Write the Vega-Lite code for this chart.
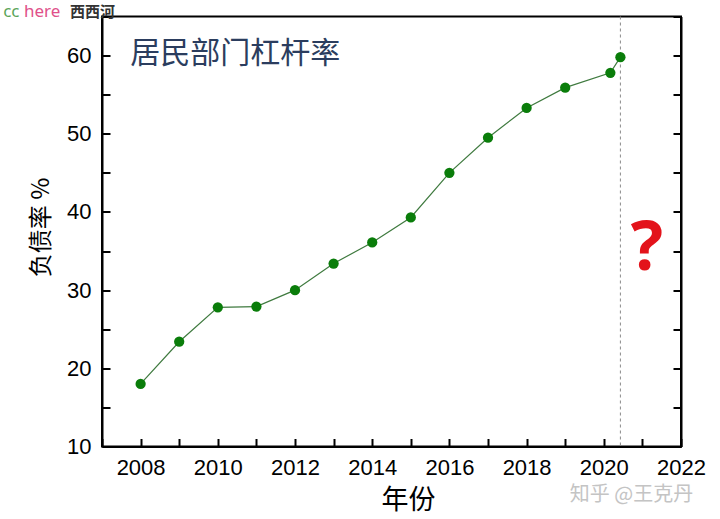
{
  "$schema": "https://vega.github.io/schema/vega-lite/v6.json",
  "width": 579,
  "height": 430,
  "autosize": {"type": "none"},
  "padding": {"left": 102, "top": 16.5, "right": 39, "bottom": 72.5},
  "background": "white",
  "config": {
    "view": {"stroke": "black", "strokeWidth": 2},
    "axis": {
      "grid": false,
      "domainColor": "black",
      "domainWidth": 2,
      "tickColor": "black",
      "tickWidth": 2,
      "tickSize": -8,
      "labelFont": "Liberation Sans",
      "labelFontSize": 22,
      "labelColor": "black",
      "labelPadding": 19,
      "labelFlush": false,
      "labelOverlap": false,
      "titleFont": "Noto Sans CJK SC",
      "titleFontWeight": "normal",
      "titleColor": "black"
    }
  },
  "datasets": {
    "series": [
      {"year": 2008, "value": 18.0},
      {"year": 2009, "value": 23.4},
      {"year": 2010, "value": 27.8},
      {"year": 2011, "value": 27.9},
      {"year": 2012, "value": 30.0},
      {"year": 2013, "value": 33.4},
      {"year": 2014, "value": 36.1},
      {"year": 2015, "value": 39.3},
      {"year": 2016, "value": 45.0},
      {"year": 2017, "value": 49.5},
      {"year": 2018, "value": 53.3},
      {"year": 2019, "value": 55.9},
      {"year": 2020.17, "value": 57.8},
      {"year": 2020.43, "value": 59.8}
    ],
    "marker": [{"year": 2020.43}],
    "heading": [{"year": 2007.73, "value": 60.2, "label": "居民部门杠杆率"}],
    "question": [{"year": 2021.12, "value": 35.1, "label": "?"}],
    "credit": [{"year": 2019.12, "value": 3.85, "label": "知乎 @王克丹"}],
    "stampcc": [{"year": 2004.44, "value": 65.55, "label": "cc"}],
    "stamphere": [{"year": 2004.98, "value": 65.55, "label": "here"}],
    "stampname": [{"year": 2006.17, "value": 65.55, "label": "西西河"}]
  },
  "encoding": {
    "x": {
      "field": "year",
      "type": "quantitative",
      "scale": {"domain": [2007, 2022], "nice": false, "zero": false},
      "axis": {
        "title": "年份",
        "titleFontSize": 27,
        "titleX": 306,
        "titleY": 53.5,
        "titleBaseline": "middle",
        "values": [2007, 2008, 2009, 2010, 2011, 2012, 2013, 2014, 2015, 2016, 2017, 2018, 2019, 2020, 2021, 2022],
        "labelExpr": "datum.value % 2 == 0 ? format(datum.value, 'd') : ''"
      }
    }
  },
  "layer": [
    {
      "data": {"name": "marker"},
      "mark": {"type": "rule", "color": "#8a8a8a", "strokeWidth": 1, "strokeDash": [3, 3]},
      "encoding": {}
    },
    {
      "data": {"name": "series"},
      "mark": {"type": "line", "color": "#3f7a3f", "strokeWidth": 1.2},
      "encoding": {
        "y": {
          "field": "value",
          "type": "quantitative",
          "scale": {"domain": [10, 65], "nice": false, "zero": false},
          "axis": {
            "orient": "left",
            "title": "负债率 %",
            "titleFontSize": 24,
            "titleX": -60.5,
            "titleY": 210.5,
            "titleAngle": -90,
            "titleBaseline": "middle",
            "titleAlign": "center",
            "values": [10, 15, 20, 25, 30, 35, 40, 45, 50, 55, 60, 65],
            "labelExpr": "datum.value % 10 == 0 ? format(datum.value, 'd') : ''"
          }
        }
      }
    },
    {
      "data": {"name": "series"},
      "mark": {"type": "circle", "color": "#0a7d0a", "opacity": 1, "size": 105},
      "encoding": {
        "y": {
          "field": "value",
          "type": "quantitative",
          "scale": {"domain": [10, 65], "nice": false, "zero": false},
          "axis": {
            "orient": "right",
            "title": null,
            "labels": false,
            "values": [10, 15, 20, 25, 30, 35, 40, 45, 50, 55, 60, 65]
          }
        }
      }
    },
    {
      "data": {"name": "heading"},
      "mark": {"type": "text", "align": "left", "baseline": "middle", "font": "Noto Sans CJK SC", "fontSize": 30, "color": "#2b3d5e"},
      "encoding": {
        "y": {"field": "value", "type": "quantitative", "scale": {"domain": [10, 65], "nice": false, "zero": false}, "axis": null},
        "text": {"field": "label"}
      }
    },
    {
      "data": {"name": "question"},
      "mark": {"type": "text", "align": "center", "baseline": "middle", "font": "Open Sans", "fontWeight": "bold", "fontSize": 68, "color": "#e3131b"},
      "encoding": {
        "y": {"field": "value", "type": "quantitative", "scale": {"domain": [10, 65], "nice": false, "zero": false}, "axis": null},
        "text": {"field": "label"}
      }
    },
    {
      "data": {"name": "credit"},
      "mark": {"type": "text", "align": "left", "baseline": "middle", "font": "Noto Sans CJK SC", "fontSize": 20, "color": "#c4c4c4"},
      "encoding": {
        "y": {"field": "value", "type": "quantitative", "scale": {"domain": [10, 65], "nice": false, "zero": false}, "axis": null},
        "text": {"field": "label"}
      }
    },
    {
      "data": {"name": "stampcc"},
      "mark": {"type": "text", "align": "left", "baseline": "middle", "font": "Noto Sans", "fontSize": 17, "color": "#5aa55a"},
      "encoding": {
        "y": {"field": "value", "type": "quantitative", "scale": {"domain": [10, 65], "nice": false, "zero": false}, "axis": null},
        "text": {"field": "label"}
      }
    },
    {
      "data": {"name": "stamphere"},
      "mark": {"type": "text", "align": "left", "baseline": "middle", "font": "Noto Sans", "fontSize": 17, "color": "#e0508a"},
      "encoding": {
        "y": {"field": "value", "type": "quantitative", "scale": {"domain": [10, 65], "nice": false, "zero": false}, "axis": null},
        "text": {"field": "label"}
      }
    },
    {
      "data": {"name": "stampname"},
      "mark": {"type": "text", "align": "left", "baseline": "middle", "font": "Noto Sans CJK SC", "fontWeight": "bold", "fontSize": 15, "color": "#333333"},
      "encoding": {
        "y": {"field": "value", "type": "quantitative", "scale": {"domain": [10, 65], "nice": false, "zero": false}, "axis": null},
        "text": {"field": "label"}
      }
    }
  ],
  "resolve": {"axis": {"y": "independent"}}
}
